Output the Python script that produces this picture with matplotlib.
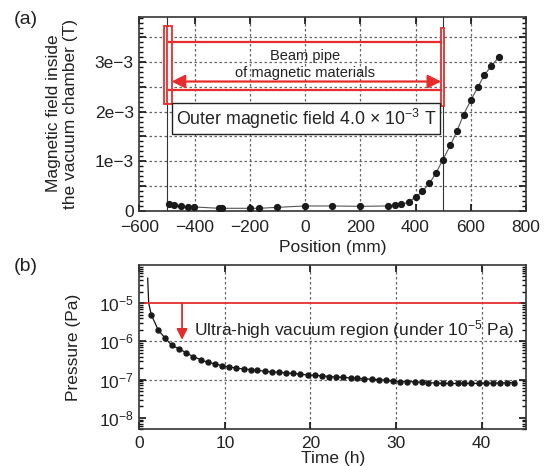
import numpy as np
import matplotlib
matplotlib.use('Agg')
import matplotlib.pyplot as plt
from matplotlib.ticker import MultipleLocator, FuncFormatter, LogLocator, NullFormatter
from matplotlib.patches import Rectangle

plt.rcParams['font.family'] = ['Liberation Sans', 'DejaVu Sans']
plt.rcParams['mathtext.fontset'] = 'custom'
plt.rcParams['mathtext.rm'] = 'Liberation Sans'
plt.rcParams['mathtext.it'] = 'Liberation Sans:italic'
plt.rcParams['mathtext.bf'] = 'Liberation Sans:bold'

# (a) magnetic field inside the chamber vs position (field in 1e-3 T)
position = [-491, -474, -450, -425, -401, -311, -301, -201, -165, -100, 0, 99, 200,
            299, 324, 349, 375, 400, 425, 450, 474, 499, 526, 550, 574, 601, 626,
            649, 674, 701]
field = [0.13, 0.115, 0.095, 0.081, 0.075, 0.048, 0.048, 0.048, 0.048, 0.068, 0.095,
         0.095, 0.088, 0.095, 0.108, 0.13, 0.17, 0.277, 0.39, 0.55, 0.76, 1.03, 1.32,
         1.61, 1.94, 2.24, 2.50, 2.74, 2.92, 3.10]
pipe_ends = [-500, 500]

# (b) pressure vs pumping time (pressure in 1e-7 Pa)
curve_start_t = [0.98, 1.1]
curve_start_p = [450, 100]
time_h = [1.4, 2.2, 3.0, 3.8, 4.7, 5.5, 6.3, 7.2, 8.0, 8.8, 9.7, 10.5, 11.3, 12.2, 13.0,
          13.8, 14.7, 15.5, 16.3, 17.2, 18.0, 18.8, 19.7, 20.5, 21.3, 22.2, 23.0, 23.8,
          24.7, 25.5, 26.3, 27.2, 28.0, 28.8, 29.7, 30.5, 31.3, 32.2, 33.0, 33.8, 34.7,
          35.5, 36.3, 37.2, 38.0, 38.8, 39.7, 40.5, 41.3, 42.2, 43.0, 43.8]
pressure = [50, 20, 12.3, 7.9, 6.3, 5.0, 4.0, 3.3, 2.8, 2.6, 2.3, 2.15, 2.0, 1.9, 1.82,
            1.74, 1.66, 1.58, 1.55, 1.48, 1.45, 1.38, 1.32, 1.29, 1.26, 1.20, 1.17, 1.15,
            1.10, 1.07, 1.05, 1.02, 1.00, 0.96, 0.91, 0.89, 0.89, 0.87, 0.85, 0.83, 0.81,
            0.79, 0.79, 0.79, 0.79, 0.80, 0.79, 0.80, 0.81, 0.81, 0.83, 0.83]
uhv_limit = 1e-5

red = '#e52d2d'
fs = 12.5
grid_kw = dict(color='#666666', lw=0.9, linestyle=(0, (2, 2)))

fig = plt.figure(figsize=(5.46, 4.66), dpi=100)
ax1 = fig.add_axes([0.2551, 0.5479, 0.7083, 0.4163])
ax2 = fig.add_axes([0.2551, 0.0788, 0.7083, 0.3526])

for ax in (ax1, ax2):
    for s in ax.spines.values():
        s.set_color('#333333')
        s.set_linewidth(1.2)
    ax.tick_params(which='both', direction='in', top=True, right=True,
                   labelsize=fs, labelcolor='#222222', pad=4, color='#111111')
    ax.tick_params(which='major', length=5, width=1.2)
    ax.tick_params(which='minor', length=3, width=1.0)
ax1.tick_params(axis='x', pad=7)
ax2.tick_params(axis='x', pad=5)

# ---- (a)
fy = np.array(field) * 1e-3
ax1.plot(position, fy, '-', color='#555555', lw=0.8, zorder=3)
ax1.plot(position, fy, 'o', color='#1a1a1a', ms=4.2, zorder=4)
for xe in pipe_ends:
    ax1.axvline(xe, color='#333333', lw=0.8, zorder=2)

ax1.set_xlim(-600, 800)
ax1.set_ylim(0, 3.92e-3)
ax1.xaxis.set_major_locator(MultipleLocator(200))
ax1.yaxis.set_major_locator(MultipleLocator(0.5e-3))
ax1.yaxis.set_minor_locator(MultipleLocator(1e-4))


def field_fmt(v, pos):
    n = int(round(v * 1e3 * 2))
    if n % 2:
        return ''
    if n == 0:
        return '0'
    return '%de\u22123' % (n // 2)


ax1.yaxis.set_major_formatter(FuncFormatter(field_fmt))
ax1.xaxis.set_major_formatter(FuncFormatter(lambda v, p: ('%d' % v).replace('-', '\u2212')))
for v in [-400, -200, 0, 200, 400, 600]:
    ax1.axvline(v, zorder=1, **grid_kw)
for v in [0.5e-3, 1e-3, 1.5e-3, 2e-3, 2.5e-3, 3e-3, 3.5e-3]:
    ax1.axhline(v, zorder=1, **grid_kw)

ax1.set_xlabel('Position (mm)', fontsize=fs, color='#222222', labelpad=3)
ax1.set_ylabel('Magnetic field inside\nthe vacuum chamber (T)', fontsize=fs,
               color='#222222', labelpad=12, linespacing=1.2)

# beam pipe annotation
ax1.add_patch(Rectangle((-512, 2.15e-3), 29, 1.59e-3, fc='white', ec=red, lw=1.3, zorder=5))
ax1.plot([-498, -498], [2.15e-3, 3.74e-3], color=red, lw=1.3, zorder=6)
ax1.add_patch(Rectangle((493, 2.12e-3), 8.5, 1.58e-3, fc='white', ec=red, lw=1.3, zorder=5))
ax1.plot([-491, 493], [3.40e-3, 3.40e-3], color=red, lw=1.6, zorder=5)
ax1.plot([-491, 493], [2.43e-3, 2.43e-3], color=red, lw=1.6, zorder=5)
ax1.annotate('', xy=(493, 2.61e-3), xytext=(-483, 2.61e-3),
             arrowprops=dict(arrowstyle='<|-|>', color=red, lw=1.6,
                             mutation_scale=20, shrinkA=0, shrinkB=0), zorder=6)
ax1.text(0, 3.13e-3, 'Beam pipe', ha='center', va='center', fontsize=10.5, color='#222222', zorder=6)
ax1.text(0, 2.79e-3, 'of magnetic materials', ha='center', va='center', fontsize=10.5,
         color='#222222', zorder=6)
ax1.text(3, 1.86e-3, r'Outer magnetic field 4.0 $\times$ 10$^{-3}$ T', ha='center', va='center',
         fontsize=12.8, color='#222222', zorder=7,
         bbox=dict(boxstyle='square,pad=0.2', fc='white', ec='#222222', lw=1.0))

# ---- (b)
t_line = curve_start_t + time_h
p_line = np.array(curve_start_p + pressure) * 1e-7
ax2.plot(t_line, p_line, '-', color='#111111', lw=0.9, zorder=3)
ax2.plot(time_h, np.array(pressure) * 1e-7, 'o', color='#1a1a1a', ms=3.6, zorder=4)
ax2.set_yscale('log')
ax2.set_xlim(0, 45.2)
ax2.set_ylim(5e-9, 1e-4)
ax2.xaxis.set_major_locator(MultipleLocator(10))
ax2.yaxis.set_major_locator(LogLocator(base=10, numticks=10))
ax2.yaxis.set_minor_locator(LogLocator(base=10, subs=np.arange(2, 10), numticks=20))
ax2.yaxis.set_minor_formatter(NullFormatter())
ax2.set_yticks([1e-8, 1e-7, 1e-6, 1e-5])
for v in [10, 20, 30, 40]:
    ax2.axvline(v, zorder=1, **grid_kw)
for v in [1e-7, 1e-6]:
    ax2.axhline(v, zorder=1, **grid_kw)

ax2.plot([0.7, 44.5], [uhv_limit, uhv_limit], color=red, lw=1.3, zorder=5)
ax2.annotate('', xy=(5, 1.1e-6), xytext=(5, uhv_limit),
             arrowprops=dict(arrowstyle='-|>', color=red, lw=1.3,
                             mutation_scale=16, shrinkA=0, shrinkB=0), zorder=6)
ax2.text(6.4, 2.1e-6, r'Ultra-high vacuum region (under 10$^{-5}$ Pa)', ha='left', va='center',
         fontsize=fs, color='#222222', zorder=6)

ax2.set_xlabel('Time (h)', fontsize=fs, color='#222222', labelpad=0)
ax2.set_ylabel('Pressure (Pa)', fontsize=fs, color='#222222', labelpad=13)

fig.text(0.0256, 0.959, '(a)', fontsize=14, color='#222222', va='center', ha='left')
fig.text(0.0256, 0.429, '(b)', fontsize=14, color='#222222', va='center', ha='left')

fig.savefig('out.png', dpi=100)
